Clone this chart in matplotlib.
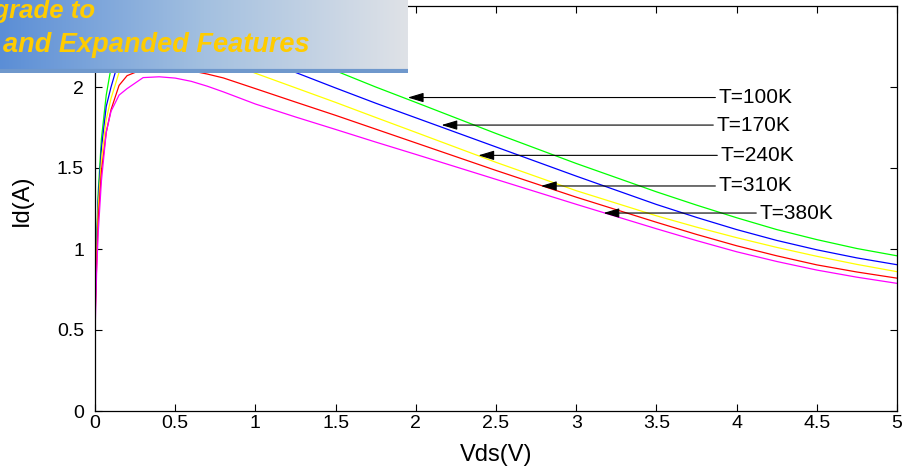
import numpy as np
import matplotlib.pyplot as plt
from matplotlib.colors import LinearSegmentedColormap

plt.rcParams['font.family'] = ['Liberation Sans', 'DejaVu Sans']

# Vds grid (V) and drain current (A) for each temperature
vds = [0, 0.002, 0.01, 0.02, 0.04, 0.07, 0.1, 0.15, 0.2, 0.3, 0.4, 0.5, 0.6, 0.7, 0.8,
       1.0, 1.25, 1.5, 1.75, 2.0, 2.5, 3.0, 3.5, 3.75, 4.0, 4.25, 4.5, 4.75, 5.0]
id_100k = [0, 0.72, 1.05, 1.35, 1.68, 1.95, 2.12, 2.30, 2.39, 2.45, 2.46, 2.455, 2.44, 2.415,
           2.38, 2.30, 2.20, 2.10, 2.00, 1.905, 1.713, 1.528, 1.353, 1.271, 1.193, 1.120,
           1.058, 1.003, 0.958]
id_170k = [0, 0.68, 1.00, 1.30, 1.62, 1.88, 2.00, 2.17, 2.27, 2.345, 2.36, 2.35, 2.33, 2.30,
           2.27, 2.19, 2.09, 1.994, 1.90, 1.81, 1.63, 1.45, 1.275, 1.195, 1.12, 1.053,
           0.995, 0.945, 0.903]
id_240k = [0, 0.65, 0.95, 1.25, 1.55, 1.80, 1.93, 2.09, 2.17, 2.23, 2.24, 2.235, 2.215, 2.19,
           2.16, 2.085, 1.995, 1.905, 1.812, 1.72, 1.535, 1.36, 1.205, 1.135, 1.07, 1.01,
           0.955, 0.905, 0.86]
id_310k = [0, 0.62, 0.90, 1.18, 1.48, 1.72, 1.86, 2.01, 2.07, 2.11, 2.12, 2.115, 2.10, 2.08,
           2.056, 1.99, 1.907, 1.825, 1.74, 1.655, 1.485, 1.32, 1.165, 1.09, 1.02, 0.958,
           0.902, 0.858, 0.82]
id_380k = [0, 0.55, 0.85, 1.10, 1.42, 1.72, 1.85, 1.95, 1.99, 2.058, 2.063, 2.055, 2.035, 2.005,
           1.97, 1.895, 1.815, 1.738, 1.66, 1.584, 1.43, 1.276, 1.125, 1.052, 0.983, 0.923,
           0.87, 0.826, 0.788]

curves = [id_100k, id_170k, id_240k, id_310k, id_380k]
labels = ['T=100K', 'T=170K', 'T=240K', 'T=310K', 'T=380K']
colors = ['#00ff00', '#0000ff', '#ffff00', '#ff0000', '#ff00ff']

# arrow tips on the curves and where the labels sit
tip_x = [1.95, 2.16, 2.39, 2.78, 3.17]
tip_y = [1.935, 1.765, 1.578, 1.389, 1.222]
label_x = [3.885, 3.872, 3.897, 3.885, 4.14]

fig = plt.figure(figsize=(9.06, 4.72), dpi=100)
ax = fig.add_axes([95 / 906, 61 / 472, 802 / 906, 405 / 472])

for ids, c in zip(curves, colors):
    ax.plot(vds, ids, color=c, lw=0.9)

for lab, tx, ty, lx in zip(labels, tip_x, tip_y, label_x):
    ax.annotate(lab, xy=(tx, ty), xytext=(lx, ty), ha='left', va='center', fontsize=15,
                arrowprops=dict(arrowstyle='-|>,head_length=0.6,head_width=0.18',
                                color='k', lw=0.8, mutation_scale=16,
                                shrinkA=0, shrinkB=0))

ax.set_xlim(0, 5)
ax.set_ylim(0, 2.5)
xt = np.arange(0, 5.01, 0.5)
ax.set_xticks(xt)
ax.set_xticklabels(['%g' % v for v in xt])
yt = np.arange(0, 2.51, 0.5)
ax.set_yticks(yt)
ax.set_yticklabels(['%g' % v for v in yt])
ax.tick_params(direction='in', length=5, width=0.8, top=True, right=True, labelsize=14)
ax.tick_params(axis='y', pad=8)
ax.tick_params(axis='x', pad=3)
for s in ax.spines.values():
    s.set_linewidth(0.9)
ax.set_xlabel('Vds(V)', fontsize=17)
ax.set_ylabel('Id(A)', fontsize=17)
ax.xaxis.set_label_coords(0.5, -0.082)
ax.yaxis.set_label_coords(-0.077, 0.52)

# watermark banner in the top-left corner
bx = fig.add_axes([0, 1 - 73 / 472, 408 / 906, 73 / 472])
cmap = LinearSegmentedColormap.from_list('banner', ['#5b8ed6', '#a3c0e0', '#dfe2e7'])
bx.imshow(np.linspace(0, 1, 256).reshape(1, -1), aspect='auto', cmap=cmap,
          extent=[0, 1, 0, 1])
bx.axhline(0.025, color='#6f98cc', lw=3)
bx.set_xlim(0, 1)
bx.set_ylim(0, 1)
bx.axis('off')
bx.text(95 / 408, 1 - 18 / 73, 'Upgrade to', ha='right', va='baseline', fontsize=18.5,
        fontweight='bold', fontstyle='italic', color='#ffcc00')
bx.text(3 / 408, 1 - 52 / 73, 'and Expanded Features', ha='left', va='baseline',
        fontsize=19.5, fontweight='bold', fontstyle='italic', color='#ffcc00')

fig.savefig('out.png', dpi=100)
